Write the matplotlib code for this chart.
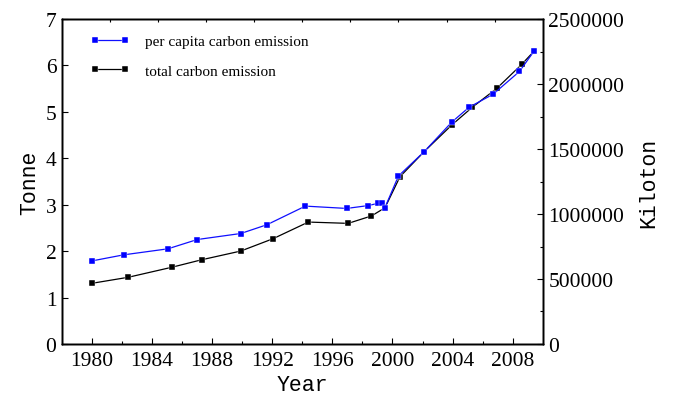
import numpy as np
import matplotlib
matplotlib.use('Agg')
import matplotlib.pyplot as plt
from matplotlib.ticker import FuncFormatter

# per capita carbon emission (Tonne), left axis
years_pc = [1980.0, 1982.1, 1985.05, 1987.0, 1989.9, 1991.65, 1994.2, 1996.95,
            1998.35, 1999.05, 1999.3, 1999.5, 2000.4, 2002.1, 2003.95, 2005.1,
            2006.7, 2008.45, 2009.45]
per_capita = [1.79, 1.92, 2.05, 2.25, 2.38, 2.57, 2.97, 2.92,
              2.98, 3.03, 3.03, 2.94, 3.62, 4.14, 4.78, 5.10,
              5.38, 5.87, 6.32]

# total carbon emission (Kiloton), right axis
years_tot = [1980.0, 1982.4, 1985.3, 1987.3, 1989.9, 1992.05, 1994.4, 1997.05,
             1998.6, 1999.5, 2000.5, 2002.1, 2003.95, 2005.3, 2006.95, 2008.6,
             2009.45]
total = [467000, 513000, 590000, 648000, 715000, 810000, 938000, 928000,
         985000, 1048000, 1287000, 1479000, 1685000, 1820000, 1967000, 2151000,
         2256000]

tick_font = 'Liberation Serif'
label_font = 'Liberation Mono'

fig = plt.figure(figsize=(6.73, 4.02), dpi=100)
ax = fig.add_axes([0.0921, 0.1418, 0.7143, 0.8084])
ax2 = ax.twinx()

l2, = ax2.plot(years_tot, total, color='black', lw=0.9, marker='s', ms=4.5,
               mec='white', mew=0.3, label='total carbon emission')
ax.set_zorder(ax2.get_zorder() + 1)
ax.patch.set_visible(False)
l1, = ax.plot(years_pc, per_capita, color='#1010ff', lw=0.9, marker='s', ms=4.5,
              mfc='#0000ff', mec='white', mew=0.3, label='per capita carbon emission')

ax.set_xlim(1978, 2010)
ax.set_ylim(0, 7)
ax2.set_ylim(0, 2500000)

ax.set_xticks(np.arange(1980, 2009, 4))
ax.set_xticks(np.arange(1982, 2010, 4), minor=True)
ax.set_yticks(np.arange(0, 8, 1))
ax2.set_yticks(np.arange(0, 2500001, 500000))
ax2.set_yticks(np.arange(250000, 2500000, 500000), minor=True)
ax2.yaxis.set_major_formatter(FuncFormatter(lambda v, p: '%d' % v))

ax.tick_params(axis='x', which='major', direction='in', length=4.5, width=0.8, labelsize=15.5, pad=5)
ax.tick_params(axis='x', which='minor', direction='in', length=2.5, width=0.8)
ax.tick_params(axis='y', which='major', direction='in', length=4, width=0.8, labelsize=15.5, pad=4)
ax2.tick_params(axis='y', which='major', direction='in', length=4, width=0.8, labelsize=15.5, pad=4)
ax2.tick_params(axis='y', which='minor', direction='in', length=2.5, width=0.8)

for lab in ax.get_xticklabels() + ax.get_yticklabels() + ax2.get_yticklabels():
    lab.set_family(tick_font)

# ticks along the top spine
top = ax.twiny()
top.set_xlim(0, 1)
top.set_xticks(np.arange(0.1, 0.95, 0.1))
top.tick_params(axis='x', direction='in', length=2.5, width=0.8, labeltop=False)

for a in (ax, ax2, top):
    for s in a.spines.values():
        s.set_linewidth(1.0)

ax.set_xlabel('Year', family=label_font, fontsize=15.5, labelpad=3)
ax.set_ylabel('Tonne', family=label_font, fontsize=15.5, labelpad=4)
ax2.set_ylabel('Kiloton', family=label_font, fontsize=15.5, labelpad=10)

leg = ax.legend(handles=[l1, l2], loc='upper left', bbox_to_anchor=(0.03, 0.995),
                frameon=False, numpoints=2, handlelength=2.6, handletextpad=1.0,
                labelspacing=1.05, prop={'family': tick_font, 'size': 11})

fig.savefig('out.png', dpi=100)
